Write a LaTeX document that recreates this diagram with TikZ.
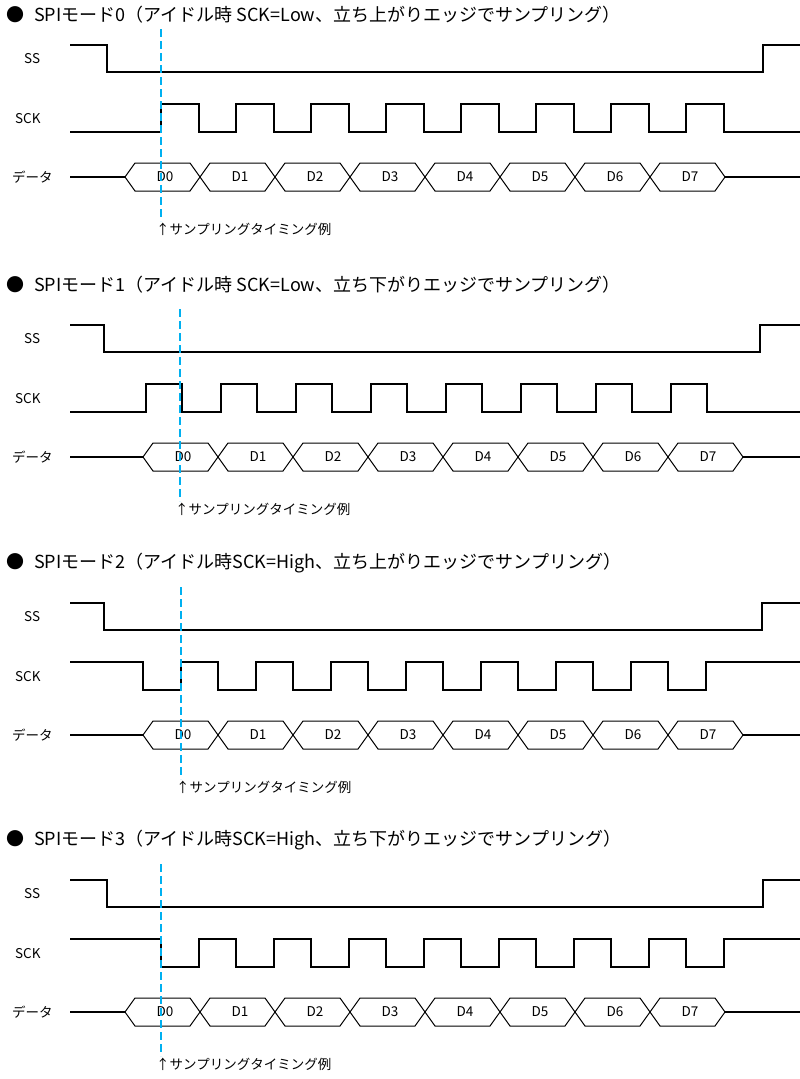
\documentclass[tikz,border=0pt]{standalone}
\usepackage{fontspec}
\setmainfont{Noto Sans CJK JP}
\definecolor{cy}{RGB}{0,176,240}
\begin{document}
\begin{tikzpicture}[x=1pt,y=-1pt,
  wave/.style={line width=1.4pt,line join=miter},
  samp/.style={cy,line width=2pt,dash pattern=on 8pt off 4pt},
  ttl/.style={anchor=west,font=\fontsize{18}{18}\selectfont,inner sep=0},
  lab/.style={anchor=west,font=\fontsize{13.5}{13.5}\selectfont,inner sep=0},
  dlab/.style={font=\fontsize{13.5}{13.5}\selectfont,inner sep=0}]
\useasboundingbox (0,0) rectangle (800,1079);
% args: top y, title y, ss fall, ss rise, sck kind, sck start, sck width, data start, sample x
\newcommand\spimode[9]{%
  \begin{scope}[yshift={-#1pt}]
  \node[ttl] at (6,#2) {●\hspace{10pt}\ttltext};
  \node[lab] at (24,37) {SS};
  \node[lab] at (15,97) {SCK};
  \node[lab] at (12,155) {データ};
  % SS
  \draw[wave] (70,23)--(#3,23)--(#3,50)--(#4,50)--(#4,23)--(800,23);
  % SCK
  \ifnum#5=0
    \def\lo{110}\def\hi{82}
  \else
    \def\lo{82}\def\hi{110}
  \fi
  \draw[wave] (70,\lo)
    \foreach \k in {0,...,7}{ -- ({#6+75*\k},\lo) -- ({#6+75*\k},\hi) -- ({#6+75*\k+#7},\hi) -- ({#6+75*\k+#7},\lo)} -- (800,\lo);
  % data
  \draw[wave] (70,155)--(#8,155);
  \draw[wave] ({#8+600},155)--(800,155);
  \foreach \k in {0,...,7}{
    \draw[line width=1pt] ({#8+75*\k},155)--({#8+75*\k+10},141)--({#8+75*\k+65},141)--({#8+75*\k+75},155)--({#8+75*\k+65},169)--({#8+75*\k+10},169)--cycle;
    \node[dlab] at ({#8+75*\k+40},155) {D\k};
  }
  \draw[samp] (#9,7)--(#9,199);
  \node[lab] at ({#9-5},207) {↑サンプリングタイミング例};
  \end{scope}}
\def\ttltext{SPIモード0（アイドル時 SCK=Low、立ち上がりエッジでサンプリング）}
\spimode{22}{-7}{107}{763}{0}{161}{38}{125}{161}
\def\ttltext{SPIモード1（アイドル時 SCK=Low、立ち下がりエッジでサンプリング）}
\spimode{302}{-17}{104}{760}{0}{146}{36}{143}{180}
\def\ttltext{SPIモード2（アイドル時SCK=High、立ち上がりエッジでサンプリング）}
\spimode{580}{-17}{104}{762}{1}{143}{38}{143}{181}
\def\ttltext{SPIモード3（アイドル時SCK=High、立ち下がりエッジでサンプリング）}
\spimode{857}{-17}{107}{763}{1}{161}{38}{125}{161}
\end{tikzpicture}
\end{document}
